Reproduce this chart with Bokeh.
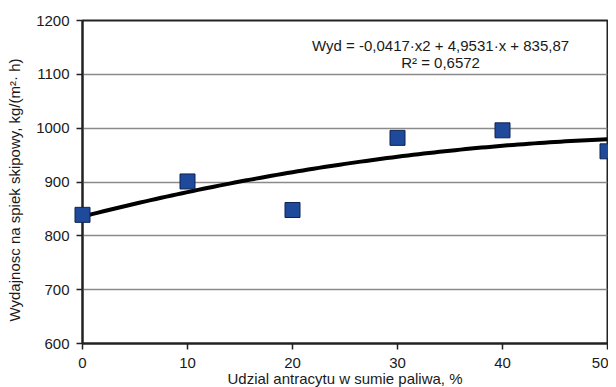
import math
import numpy as np
from bokeh.plotting import figure
from bokeh.models import Label, FixedTicker, ColumnDataSource
from bokeh.core.properties import value
from bokeh.embed import file_html
from bokeh.resources import INLINE

# data
udzial = [0, 10, 20, 30, 40, 50]
wydajnosc = [839, 901, 848, 982, 996, 957]
trend_coef = [-0.0417, 4.9531, 835.87]
x_ticks = [0, 10, 20, 30, 40, 50]
y_ticks = [600, 700, 800, 900, 1000, 1100, 1200]
eq_lines = ["Wyd = -0,0417·x2 + 4,9531·x + 835,87", "R² = 0,6572"]
x_title = "Udzial antracytu w sumie paliwa, %"
y_title = "Wydajnosc na spiek skipowy, kg/(m²· h)"

FONT = "Liberation Sans"
DARK = "#1a1a1a"

p = figure(width=608, height=387, x_range=(0, 50), y_range=(600, 1200),
           output_backend="svg", toolbar_location=None,
           min_border_left=82, min_border_right=1, min_border_top=20, min_border_bottom=44)
p.background_fill_color = "white"
p.border_fill_color = "white"
p.outline_line_color = "#222222"
p.outline_line_width = 2

p.xgrid.visible = False
p.ygrid.grid_line_color = "#8a8a8a"
p.ygrid.grid_line_width = 1.5

for ax in (p.xaxis[0], p.yaxis[0]):
    ax.axis_line_color = "#222222"
    ax.axis_line_width = 2
    ax.major_tick_line_color = "#222222"
    ax.major_tick_line_width = 1.5
    ax.major_tick_out = 6
    ax.major_tick_in = 0
    ax.minor_tick_line_color = None
    ax.major_label_text_font = FONT
    ax.major_label_text_font_size = "15px"
    ax.major_label_text_color = DARK

p.xaxis.ticker = FixedTicker(ticks=x_ticks)
p.yaxis.ticker = FixedTicker(ticks=y_ticks)
p.xaxis.major_label_standoff = 8
p.yaxis.major_label_standoff = 7

# trend line from the regression shown on the chart
xs = np.linspace(0, 50, 101)
ys = np.polyval(trend_coef, xs)
p.line(xs, ys, line_color="black", line_width=4)

src = ColumnDataSource(dict(x=udzial, y=wydajnosc))
p.scatter("x", "y", source=src, marker="square", size=15,
          fill_color="#1f4a9c", line_color="#0d2350", line_width=1, level="overlay")

p.add_layout(Label(x=34.1, y=1153, text=eq_lines[0], text_align="center", text_baseline="middle",
                   text_font=FONT, text_font_size="15px", text_color=DARK))
p.add_layout(Label(x=34.1, y=1122, text=eq_lines[1], text_align="center", text_baseline="middle",
                   text_font=FONT, text_font_size="15px", text_color=DARK))

# axis titles (text glyphs at overlay level so they are not clipped to the frame)
p.text(x=[25], y=[600], text=[x_title], y_offset=35, text_align="center",
       text_baseline="middle", text_font=value(FONT), text_font_size="15px",
       text_color=DARK, level="overlay")
p.text(x=[0], y=[900], text=[y_title], x_offset=-68, y_offset=8, angle=math.pi / 2,
       text_align="center", text_baseline="middle", text_font=value(FONT),
       text_font_size="15px", text_color=DARK, level="overlay")

open("out.html", "w").write(file_html(p, INLINE))
